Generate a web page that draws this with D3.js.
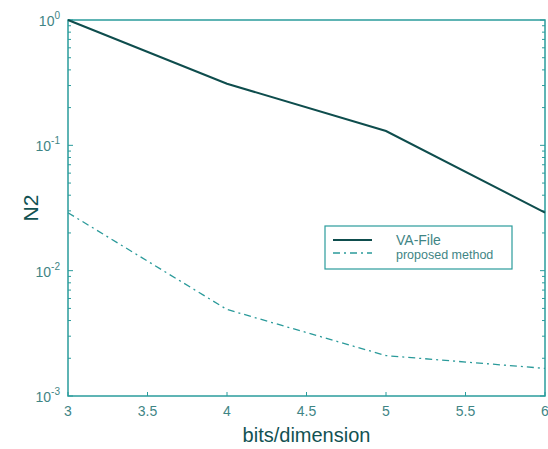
<!DOCTYPE html>
<html>
<head>
<meta charset="utf-8">
<script src="https://cdn.jsdelivr.net/npm/d3@7"></script>
<style>
  body { margin: 0; background: #fff; }
  text { font-family: "Liberation Sans", Arial, sans-serif; }
</style>
</head>
<body>
<div id="chart"></div>
<script>
// data
var bits = [3, 4, 5, 6];
var vaFile = [1.0, 0.31, 0.13, 0.029];
var proposed = [0.029, 0.0049, 0.0021, 0.00166];
var xTicks = [3, 3.5, 4, 4.5, 5, 5.5, 6];
var yExponents = [0, -1, -2, -3];
var seriesNames = ["VA-File", "proposed method"];

var width = 548, height = 449;
var margin = {top: 20, right: 3, bottom: 53, left: 68};

var svg = d3.select("#chart").append("svg")
    .attr("width", width)
    .attr("height", height);

var x = d3.scaleLinear()
    .domain([3, 6])
    .range([margin.left, width - margin.right]);

var y = d3.scaleLog()
    .domain([1e-3, 1])
    .range([height - margin.bottom, margin.top]);

var axisColor = "#2a9c9c";
var textColor = "#3f8585";

// minor + major ticks on left and right (inward)
var minor = [];
yExponents.forEach(function(e) {
    if (e === 0) return;
    for (var k = 2; k <= 9; k++) minor.push(k * Math.pow(10, e));
});

var g = svg.append("g");

minor.forEach(function(v) {
    g.append("line").attr("x1", x(3)).attr("x2", x(3) + 3)
        .attr("y1", y(v)).attr("y2", y(v)).attr("stroke", axisColor);
    g.append("line").attr("x1", x(6)).attr("x2", x(6) - 3)
        .attr("y1", y(v)).attr("y2", y(v)).attr("stroke", axisColor);
});
yExponents.forEach(function(e) {
    var v = Math.pow(10, e);
    g.append("line").attr("x1", x(3)).attr("x2", x(3) + 5)
        .attr("y1", y(v)).attr("y2", y(v)).attr("stroke", axisColor);
    g.append("line").attr("x1", x(6)).attr("x2", x(6) - 5)
        .attr("y1", y(v)).attr("y2", y(v)).attr("stroke", axisColor);
    var t = g.append("text")
        .attr("x", x(3) - 8)
        .attr("y", y(v) + 6)
        .attr("text-anchor", "end")
        .attr("fill", textColor)
        .style("font-size", "14px");
    t.append("tspan").text("10");
    t.append("tspan").attr("dy", -7).style("font-size", "10px").text(e);
});

xTicks.forEach(function(v) {
    g.append("line").attr("x1", x(v)).attr("x2", x(v))
        .attr("y1", y(1e-3)).attr("y2", y(1e-3) - 4).attr("stroke", axisColor);
    g.append("text")
        .attr("x", x(v))
        .attr("y", y(1e-3) + 20)
        .attr("text-anchor", "middle")
        .attr("fill", textColor)
        .style("font-size", "14px")
        .text(v);
});

// box
g.append("rect")
    .attr("x", x(3)).attr("y", y(1))
    .attr("width", x(6) - x(3)).attr("height", y(1e-3) - y(1))
    .attr("fill", "none")
    .attr("stroke", axisColor)
    .attr("stroke-width", 1.5);

// lines
var line = d3.line()
    .x(function(d) { return x(d[0]); })
    .y(function(d) { return y(d[1]); });

svg.append("path")
    .datum(d3.zip(bits, vaFile))
    .attr("d", line)
    .attr("fill", "none")
    .attr("stroke", "#0e4d4d")
    .attr("stroke-width", 2);

svg.append("path")
    .datum(d3.zip(bits, proposed))
    .attr("d", line)
    .attr("fill", "none")
    .attr("stroke", "#2a9a9a")
    .attr("stroke-width", 1.3)
    .attr("stroke-dasharray", "7,4,2,4");

// axis labels
svg.append("text")
    .attr("x", (x(3) + x(6)) / 2)
    .attr("y", 442)
    .attr("text-anchor", "middle")
    .attr("fill", "#125252")
    .style("font-size", "20px")
    .text("bits/dimension");

svg.append("text")
    .attr("transform", "translate(38," + 208 + ") rotate(-90)")
    .attr("text-anchor", "middle")
    .attr("fill", "#125252")
    .style("font-size", "21px")
    .text("N2");

// legend
var lg = svg.append("g");
lg.append("rect")
    .attr("x", 325).attr("y", 226)
    .attr("width", 187).attr("height", 43)
    .attr("fill", "#fff")
    .attr("stroke", axisColor)
    .attr("stroke-width", 1.2);
lg.append("line").attr("x1", 333).attr("x2", 372).attr("y1", 240).attr("y2", 240)
    .attr("stroke", "#0e4d4d").attr("stroke-width", 2);
lg.append("line").attr("x1", 333).attr("x2", 372).attr("y1", 253).attr("y2", 253)
    .attr("stroke", "#2a9a9a").attr("stroke-width", 1.3)
    .attr("stroke-dasharray", "7,4,2,4");
lg.append("text").attr("x", 396).attr("y", 245)
    .attr("fill", textColor).style("font-size", "14px").text(seriesNames[0]);
lg.append("text").attr("x", 396).attr("y", 259)
    .attr("fill", textColor).style("font-size", "12.5px").text(seriesNames[1]);
</script>
</body>
</html>
